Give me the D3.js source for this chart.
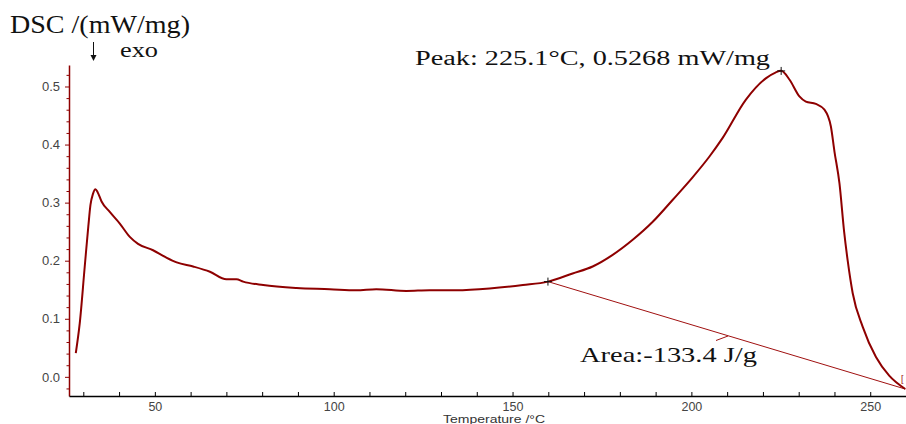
<!DOCTYPE html>
<html>
<head>
<meta charset="utf-8">
<script src="https://cdn.jsdelivr.net/npm/d3@7"></script>
<style>
  html, body { margin: 0; padding: 0; background: #fff; }
  svg { display: block; }
</style>
</head>
<body>
<svg id="chart" width="906" height="424"></svg>
<script>
// ---- data ----
const temperature = [27.9, 29.0, 30.4, 31.4, 32.0, 32.7, 33.4, 34.0, 35.1, 37.4, 40.2, 43.0, 45.3, 49.5, 53.0, 56.1, 60.7, 65.4, 70.0, 72.8, 74.7, 80.3, 89.6, 98.9, 106.3, 111.9, 120.3, 126.8, 134.3, 143.6, 152.9, 159.9, 166.8, 172.4, 178.0, 183.6, 189.2, 194.8, 200.4, 205.0, 208.7, 215.2, 220.8, 223.5, 225.1, 227.4, 230.2, 232.0, 234.8, 237.2, 239.0, 240.0, 241.4, 242.7, 243.7, 245.1, 247.9, 251.6, 255.3, 259.8];
const dsc = [0.041, 0.092, 0.190, 0.259, 0.296, 0.315, 0.323, 0.318, 0.302, 0.284, 0.264, 0.241, 0.229, 0.218, 0.206, 0.197, 0.190, 0.181, 0.168, 0.168, 0.164, 0.158, 0.153, 0.151, 0.149, 0.151, 0.148, 0.149, 0.149, 0.152, 0.158, 0.164, 0.178, 0.190, 0.210, 0.236, 0.267, 0.305, 0.344, 0.379, 0.411, 0.477, 0.514, 0.524, 0.527, 0.512, 0.483, 0.474, 0.470, 0.460, 0.431, 0.388, 0.333, 0.250, 0.200, 0.144, 0.086, 0.034, 0.002, -0.021];
const baselineT = [159.9, 259.8];
const baselineV = [0.164, -0.021];
const peakT = 225.1, peakV = 0.5268;
const xMajorTicks = [50, 100, 150, 200, 250];
const xMinorTicks = [30, 40, 60, 70, 80, 90, 110, 120, 130, 140, 160, 170, 180, 190, 210, 220, 230, 240, 260];
const yMajorTicks = [0.0, 0.1, 0.2, 0.3, 0.4, 0.5];
const yMinorTicks = [-0.02, 0.02, 0.04, 0.06, 0.08, 0.12, 0.14, 0.16, 0.18, 0.22, 0.24, 0.26, 0.28, 0.32, 0.34, 0.36, 0.38, 0.42, 0.44, 0.46, 0.48, 0.52];
const yTitle = "DSC /(mW/mg)";
const xTitle = "Temperature /°C";
const peakLabel = "Peak: 225.1°C, 0.5268 mW/mg";
const areaLabel = "Area:-133.4 J/g";

// ---- drawing ----
const svg = d3.select("#chart");
const x = d3.scaleLinear().domain([26, 260]).range([69, 906]);
const y = d3.scaleLinear().domain([-0.033, 0.537]).range([396, 65]);
const red = "#8e0000";
const sans = "'Liberation Sans', Arial, sans-serif";
const serif = "'Liberation Serif', 'Times New Roman', serif";

// y axis minor
svg.append("g").attr("transform", "translate(69,0)")
  .call(d3.axisLeft(y).tickValues(yMinorTicks).tickSize(2.5).tickFormat(""))
  .call(g => g.select(".domain").remove())
  .call(g => g.selectAll("line").attr("stroke", red));
// y axis major
const gy = svg.append("g").attr("transform", "translate(69,0)")
  .call(d3.axisLeft(y).tickValues(yMajorTicks).tickSize(4).tickPadding(5).tickFormat(d3.format(".1f")).tickSizeOuter(0));
gy.select(".domain").attr("stroke", red).attr("stroke-width", 1.5);
gy.selectAll("line").attr("stroke", red);
gy.selectAll("text").attr("fill", "#444").style("font-family", sans).style("font-size", "13px");

// x axis minor
svg.append("g").attr("transform", "translate(0,396)")
  .call(d3.axisBottom(x).tickValues(xMinorTicks).tickSize(-4).tickFormat(""))
  .call(g => g.select(".domain").remove())
  .call(g => g.selectAll("line").attr("stroke", "#000"));
// x axis major
const gx = svg.append("g").attr("transform", "translate(0,396)")
  .call(d3.axisBottom(x).tickValues(xMajorTicks).tickSizeInner(-4).tickSizeOuter(0).tickPadding(6));
gx.select(".domain").attr("stroke", "#000").attr("stroke-width", 1.5);
gx.selectAll("line").attr("stroke", "#000");
gx.selectAll("text").attr("fill", "#444").style("font-family", sans).style("font-size", "12.5px");

// x title
svg.append("text").attr("x", 443).attr("y", 422.5)
  .attr("textLength", 102).attr("lengthAdjust", "spacingAndGlyphs")
  .style("font-family", sans).style("font-size", "11.5px").attr("fill", "#333")
  .text(xTitle);

// y title
svg.append("text").attr("x", 10).attr("y", 33)
  .attr("textLength", 180).attr("lengthAdjust", "spacingAndGlyphs")
  .style("font-family", serif).style("font-size", "25px").attr("fill", "#111")
  .text(yTitle);
// exo arrow
svg.append("line").attr("x1", 93.5).attr("x2", 93.5).attr("y1", 42).attr("y2", 58)
  .attr("stroke", "#111").attr("stroke-width", 1);
svg.append("path").attr("d", "M90.5,55 L93.5,61 L96.5,55 Z").attr("fill", "#111");
svg.append("text").attr("x", 120).attr("y", 57)
  .attr("textLength", 38).attr("lengthAdjust", "spacingAndGlyphs")
  .style("font-family", serif).style("font-size", "21px").attr("fill", "#111")
  .text("exo");

// baseline for area
svg.append("line")
  .attr("x1", x(baselineT[0])).attr("y1", y(baselineV[0]))
  .attr("x2", x(baselineT[1])).attr("y2", y(baselineV[1]))
  .attr("stroke", "#a01010").attr("stroke-width", 1);
// small pointer on baseline
svg.append("line").attr("x1", 716).attr("y1", 340.5).attr("x2", 728).attr("y2", 336)
  .attr("stroke", "#a01010").attr("stroke-width", 1);
svg.append("text").attr("x", 901).attr("y", 382)
  .style("font-family", sans).style("font-size", "9px").attr("fill", "#a01010").text("[");

// curve
const pts = temperature.map((t, i) => [t, dsc[i]]);
svg.append("path").datum(pts)
  .attr("d", d3.line().x(d => x(d[0])).y(d => y(d[1])).curve(d3.curveMonotoneX))
  .attr("fill", "none").attr("stroke", red).attr("stroke-width", 2);

// markers
function plus(cx, cy) {
  svg.append("path").attr("d", `M${cx-4},${cy} H${cx+4} M${cx},${cy-4} V${cy+4}`)
    .attr("stroke", "#111").attr("stroke-width", 1);
}
plus(x(peakT), y(peakV));
plus(x(baselineT[0]), y(baselineV[0]));

// annotations
svg.append("text").attr("x", 415).attr("y", 65)
  .attr("textLength", 355).attr("lengthAdjust", "spacingAndGlyphs")
  .style("font-family", serif).style("font-size", "20px").attr("fill", "#111")
  .text(peakLabel);
svg.append("text").attr("x", 580).attr("y", 362)
  .attr("textLength", 177).attr("lengthAdjust", "spacingAndGlyphs")
  .style("font-family", serif).style("font-size", "21px").attr("fill", "#111")
  .text(areaLabel);
</script>
</body>
</html>
